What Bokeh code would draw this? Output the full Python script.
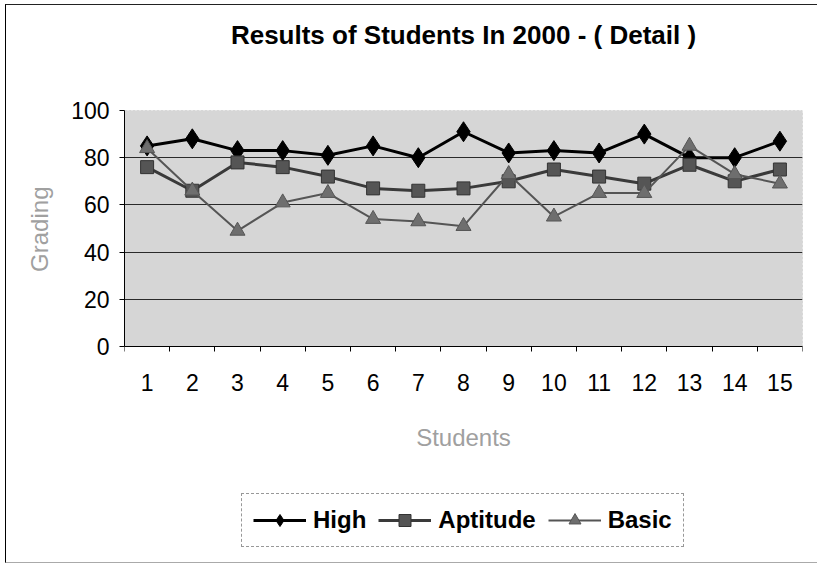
from bokeh.plotting import figure
from bokeh.models import FixedTicker, Legend, LegendItem, Title, BoxAnnotation
from bokeh.embed import file_html
from bokeh.resources import INLINE

students = list(range(1, 16))
high = [85, 88, 83, 83, 81, 85, 80, 91, 82, 83, 82, 90, 80, 80, 87]
aptitude = [76, 66, 78, 76, 72, 67, 66, 67, 70, 75, 72, 69, 77, 70, 75]
basic = [84, 66, 49, 61, 65, 54, 53, 51, 73, 55, 65, 65, 85, 73, 69]
y_ticks = [0, 20, 40, 60, 80, 100]

NARROW = "Liberation Sans Narrow, Arial Narrow, Liberation Sans, Arial, sans-serif"

# layout geometry (pixels)
PLOT_H = 236          # height of the 0..100 grading area
FRAME_H = 445         # frame extends below the grading area to hold the legend
y_low = -100.0 * (FRAME_H - PLOT_H) / PLOT_H

p = figure(frame_width=678, frame_height=FRAME_H, output_backend="svg", toolbar_location=None,
           x_range=(0.5, 15.5), y_range=(y_low, 100), title_location=None,
           min_border_left=118, min_border_right=15, min_border_top=105, min_border_bottom=7)
p.styles = {"margin": "4px 0 0 5px", "border-left": "1px solid black",
            "border-top": "1px solid #222222", "border-bottom": "1px solid #aaaaaa"}

top_spacer = Title(text=" ", text_font_size="40px", standoff=10, offset=0)
p.add_layout(top_spacer, "above")
main_title = Title(text="Results of Students In 2000 - ( Detail )", align="center",
                   text_font=NARROW, text_font_size="26px", text_font_style="bold",
                   text_color="black", standoff=10, offset=0)
p.add_layout(main_title, "above")

p.background_fill_color = "white"
p.border_fill_color = "white"
p.outline_line_color = None

area = BoxAnnotation(left=0.5, right=15.5, bottom=0, top=100, level="image",
                     fill_color="#d6d6d6", fill_alpha=1,
                     line_color="#333333", line_dash="3 1", line_width=1)
p.add_layout(area)

p.xgrid.visible = False
p.ygrid.ticker = FixedTicker(ticks=y_ticks)
p.ygrid.grid_line_color = "#2a2a2a"
p.ygrid.grid_line_width = 1

p.xaxis.fixed_location = 0
p.xaxis.ticker = FixedTicker(ticks=students, minor_ticks=[s - 0.5 for s in students] + [15.5])
p.xaxis.major_tick_out = 0
p.xaxis.major_tick_in = 0
p.xaxis.minor_tick_out = 5
p.xaxis.minor_tick_in = 0
p.xaxis.minor_tick_line_color = "black"
p.xaxis.major_label_standoff = 22
p.xaxis.axis_label = "Students"
p.xaxis.axis_label_standoff = 30
p.xaxis.axis_label_text_font_style = "normal"

p.yaxis.bounds = (0, 100)
p.yaxis.ticker = FixedTicker(ticks=y_ticks)
p.yaxis.major_tick_out = 5
p.yaxis.major_tick_in = 0
p.yaxis.minor_tick_line_color = None
p.yaxis.major_label_standoff = 10

for ax in (p.xaxis, p.yaxis):
    ax.axis_line_color = "black"
    ax.axis_line_width = 1
    ax.major_tick_line_color = "black"
    ax.major_label_text_font = NARROW
    ax.major_label_text_font_size = "23px"
    ax.major_label_text_color = "black"
    ax.axis_label_text_font = "Liberation Sans, Arial, sans-serif"
    ax.axis_label_text_font_size = "24px"
    ax.axis_label_text_color = "#a0a0a0"

# y-axis label, centred on the 0..100 grading area
y_label = Title(text="Grading", align="right", offset=76, standoff=32,
                text_font="Liberation Sans, Arial, sans-serif", text_font_size="24px",
                text_font_style="normal", text_color="#a0a0a0")
p.add_layout(y_label, "left")

r_high_l = p.line(students, high, line_color="black", line_width=3)
r_high_m = p.scatter(students, high, marker="diamond", size=20, fill_color="black", line_color="black")
r_apt_l = p.line(students, aptitude, line_color="#3a3a3a", line_width=3)
r_apt_m = p.scatter(students, aptitude, marker="square", size=13, fill_color="#555555", line_color="#333333")
r_bas_l = p.line(students, basic, line_color="#555555", line_width=2)
r_bas_m = p.scatter(students, basic, marker="triangle", size=15, fill_color="#6e6e6e", line_color="#555555")

legend = Legend(items=[
    LegendItem(label="High", renderers=[r_high_l, r_high_m]),
    LegendItem(label="Aptitude", renderers=[r_apt_l, r_apt_m]),
    LegendItem(label="Basic", renderers=[r_bas_l, r_bas_m]),
], orientation="horizontal", location=(117, 8))
legend.glyph_width = 53
legend.glyph_height = 30
legend.label_height = 30
legend.label_text_font = NARROW
legend.label_text_font_size = "24px"
legend.label_text_font_style = "bold"
legend.label_text_color = "black"
legend.label_standoff = 7
legend.spacing = 12
legend.padding = 11
legend.margin = 0
legend.border_line_color = "#333333"
legend.border_line_dash = "2 1"
legend.background_fill_color = "white"
legend.background_fill_alpha = 1
p.add_layout(legend, "center")

open("out.html", "w").write(file_html(p, INLINE))
